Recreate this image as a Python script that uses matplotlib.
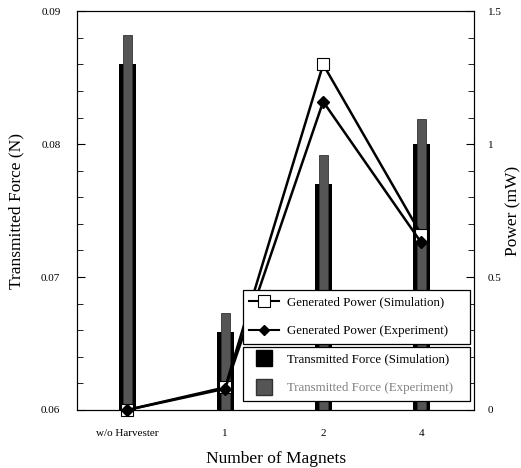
import numpy as np
import matplotlib.pyplot as plt
from matplotlib.lines import Line2D
from matplotlib.ticker import MultipleLocator

plt.rcParams['font.family'] = ['Liberation Serif', 'DejaVu Serif']

# data
categories = ['w/o Harvester', '1', '2', '4']
force_sim = [0.0860, 0.0659, 0.0770, 0.0800]
force_exp = [0.0882, 0.0673, 0.0792, 0.0819]
power_sim = [0.0, 0.085, 1.30, 0.66]
power_exp = [0.0, 0.080, 1.16, 0.63]

x = np.arange(len(categories))

fig = plt.figure(figsize=(5.21, 4.68), dpi=100)
ax = fig.add_axes([0.148, 0.124, 0.762, 0.852])

ax.bar(x, np.array(force_sim) - 0.06, width=0.175, bottom=0.06, color='black')
ax.bar(x, np.array(force_exp) - 0.06, width=0.09, bottom=0.06,
       color='#555555', edgecolor='#333333', linewidth=0.6)

ax.set_ylim(0.06, 0.09)
ax.set_xlim(-0.51, 3.54)
ax.yaxis.set_major_locator(MultipleLocator(0.01))
ax.yaxis.set_minor_locator(MultipleLocator(0.002))
ax.set_xticks(x)
ax.set_xticklabels(categories, fontsize=8)
ax.tick_params(axis='x', length=0, pad=14)
ax.tick_params(axis='y', which='both', direction='in', labelsize=8, pad=12)
ax.tick_params(axis='y', which='major', length=6)
ax.tick_params(axis='y', which='minor', length=4)
ax.set_ylabel('Transmitted Force (N)', fontsize=12.5, labelpad=12)
ax.set_xlabel('Number of Magnets', fontsize=12.5, labelpad=9)

ax2 = ax.twinx()
ax2.plot(x, power_sim, color='black', lw=1.8, marker='s', ms=8,
         mfc='white', mec='black', mew=0.8, clip_on=False)
ax2.plot(x, power_exp, color='black', lw=1.8, marker='D', ms=6,
         mfc='black', mec='black', clip_on=False)
ax2.set_ylim(0, 1.5)
ax2.yaxis.set_major_locator(MultipleLocator(0.5))
ax2.yaxis.set_minor_locator(MultipleLocator(0.1))
ax2.yaxis.set_major_formatter(plt.FuncFormatter(lambda v, p: f'{v:g}'))
ax2.tick_params(axis='y', which='both', direction='in', labelsize=8, pad=10)
ax2.tick_params(axis='y', which='major', length=6)
ax2.tick_params(axis='y', which='minor', length=4)
ax2.set_ylabel('Power (mW)', fontsize=12.5)
ax2.yaxis.set_label_coords(1.078, 0.5)

leg_kw = dict(loc='upper left', bbox_transform=fig.transFigure, mode='expand',
              fontsize=9.3, handlelength=2.3, handletextpad=0.6, labelspacing=1.3,
              borderpad=0.5, borderaxespad=0, fancybox=False,
              edgecolor='black', framealpha=1)

line_handles = [
    Line2D([], [], color='black', lw=1.5, marker='s', ms=8, mfc='white', mec='black', mew=0.8),
    Line2D([], [], color='black', lw=1.5, marker='D', ms=5, mfc='black'),
]
leg1 = ax2.legend(line_handles,
                  ['Generated Power (Simulation)', 'Generated Power (Experiment)'],
                  bbox_to_anchor=(0.466, 0.370, 0.436, 0.01), **leg_kw)
leg1.get_frame().set_linewidth(0.9)
ax2.add_artist(leg1)

bar_handles = [
    Line2D([], [], ls='none', marker='s', ms=11, mfc='black', mec='black'),
    Line2D([], [], ls='none', marker='s', ms=11, mfc='#555555', mec='#333333'),
]
leg2 = ax2.legend(bar_handles,
                  ['Transmitted Force (Simulation)', 'Transmitted Force (Experiment)'],
                  bbox_to_anchor=(0.466, 0.2485, 0.436, 0.01), **leg_kw)
leg2.get_frame().set_linewidth(0.9)
leg2.get_texts()[1].set_color('#808080')

fig.savefig('out.png', dpi=100)
